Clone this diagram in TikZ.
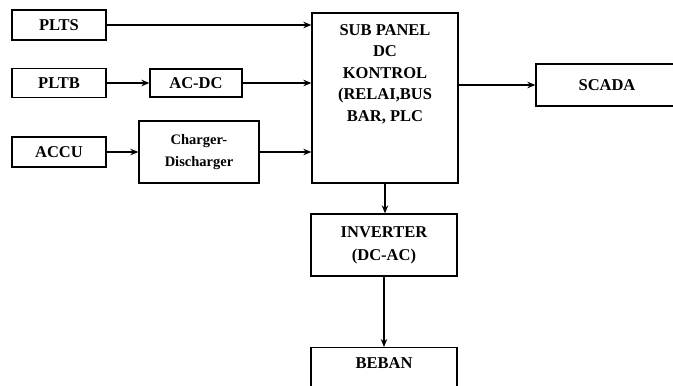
\documentclass[tikz,border=0pt]{standalone}
\usepackage{fontspec}
\setmainfont{Liberation Serif}
\usetikzlibrary{arrows.meta, positioning}

\begin{document}
\begin{tikzpicture}[x=1pt, y=-1pt,
    blok/.style={draw, line width=1.3pt, inner sep=0pt, align=center,
      font=\fontsize{16.5}{23}\selectfont\bfseries},
    isi/.style={inner sep=0pt, align=center,
      font=\fontsize{16.5}{21.5}\selectfont\bfseries},
    panah/.style={line width=1.3pt, -{Stealth[length=8pt, width=6.5pt]}}]
  \useasboundingbox (0,0) rectangle (673,386);
  \clip (0,0) rectangle (673,386);
  % sumber
  \node[blok, minimum width=94pt, minimum height=30pt] (plts) at (59,25) {PLTS};
  \node[blok, minimum width=94pt, minimum height=29pt] (pltb) at (59,83) {PLTB};
  \node[blok, minimum width=94pt, minimum height=30pt] (accu) at (59,152) {ACCU};
  \node[blok, minimum width=92pt, minimum height=28pt] (acdc) at (196,83) {AC-DC};
  \node[blok, minimum width=120pt, minimum height=62pt,
    font=\fontsize{14.5}{22}\selectfont\bfseries] (charger) at (199,152) {Charger-\\Discharger};
  % panel
  \node[blok, minimum width=146pt, minimum height=170pt] (subpanel) at (385,98) {};
  \node[isi, below=12pt of subpanel.north] (subpaneltxt)
    {SUB PANEL\\DC\\KONTROL\\(RELAI,BUS\\BAR, PLC};
  \node[blok, minimum width=142pt, minimum height=42pt] (scada) at (607,85) {SCADA};
  \node[blok, minimum width=146pt, minimum height=62pt] (inverter) at (384,245) {INVERTER\\(DC-AC)};
  \node[blok, anchor=north, minimum width=146pt, minimum height=62pt] (beban) at (384,347) {};
  \node[isi, below=10pt of beban.north] (bebantxt) {BEBAN};
  % panah
  \draw[panah] (plts.east) -- (plts.east -| subpanel.west);
  \draw[panah] (pltb.east) -- (pltb.east -| acdc.west);
  \draw[panah] (acdc.east) -- (acdc.east -| subpanel.west);
  \draw[panah] (accu.east) -- (accu.east -| charger.west);
  \draw[panah] (charger.east) -- (charger.east -| subpanel.west);
  \draw[panah] (scada.west -| subpanel.east) -- (scada.west);
  \draw[panah] (subpanel.south) -- (subpanel.south |- inverter.north);
  \draw[panah] (inverter.south) -- (inverter.south |- beban.north);
\end{tikzpicture}
\end{document}
